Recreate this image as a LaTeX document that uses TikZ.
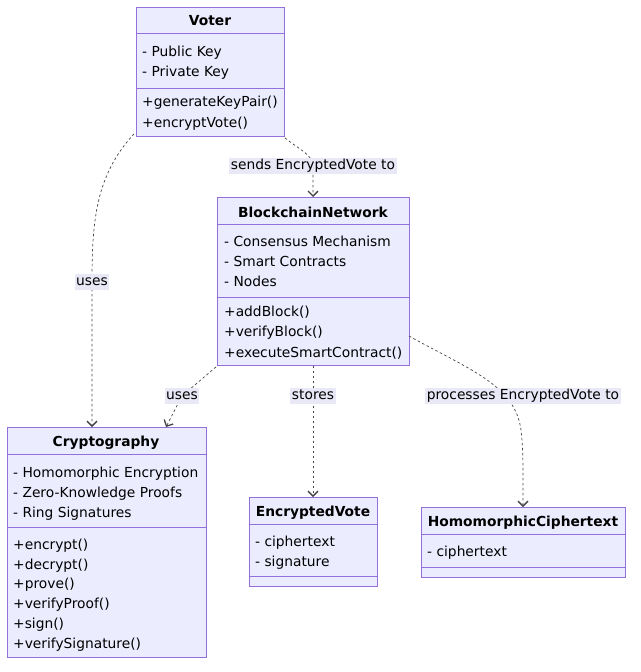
\documentclass[tikz,border=0pt]{standalone}
\usepackage{fontspec}
\setmainfont{DejaVu Sans}
\usetikzlibrary{arrows.meta,calc}
\definecolor{boxfill}{HTML}{ECECFF}
\definecolor{boxline}{HTML}{9370DB}
\definecolor{edgecol}{HTML}{444444}
\definecolor{lblbg}{HTML}{E8E8F6}
\tikzset{
  umlbox/.style={draw=boxline, fill=boxfill, line width=0.9pt, inner sep=0, anchor=north west},
  sepline/.style={draw=boxline, line width=0.9pt},
  ttl/.style={font=\fontsize{13.8}{16}\selectfont\bfseries, anchor=base, inner sep=0},
  itm/.style={font=\fontsize{13.8}{16}\selectfont, anchor=base west, inner sep=0},
  dep/.style={draw=edgecol, line width=0.7pt, dash pattern=on 2.5pt off 2.5pt, -{Straight Barb[length=5pt,width=10pt,line width=1.3pt]}},
  lbl/.style={font=\fontsize{13.8}{16}\selectfont, fill=lblbg, inner sep=1.5pt, text height=10.5pt, text depth=3pt},
}
\begin{document}
\begin{tikzpicture}[x=1pt,y=-1pt]
\useasboundingbox (0,0) rectangle (640,672);
\fill[white] (0,0) rectangle (640,672);

% Voter
\node[umlbox, minimum width=148pt, minimum height=129pt] (voter) at (136,7) {};
\draw[sepline] (136,33) -- (284,33);
\draw[sepline] (136,88) -- (284,88);
\node[ttl] (voterT) at (210,25) {Voter};
\node[itm] (v1) at (142,56) {- Public Key};
\node[itm] (v2) at (142,76) {- Private Key};
\node[itm] (v3) at (142,106) {+generateKeyPair()};
\node[itm] (v4) at (142,127) {+encryptVote()};

% BlockchainNetwork
\node[umlbox, minimum width=192pt, minimum height=168pt] (bc) at (217,197) {};
\draw[sepline] (217,224) -- (409,224);
\draw[sepline] (217,297) -- (409,297);
\node[ttl] (bcT) at (313,217) {BlockchainNetwork};
\node[itm] (b1) at (224,246) {- Consensus Mechanism};
\node[itm] (b2) at (224,266) {- Smart Contracts};
\node[itm] (b3) at (224,286) {- Nodes};
\node[itm] (b4) at (224,316) {+addBlock()};
\node[itm] (b5) at (224,336) {+verifyBlock()};
\node[itm] (b6) at (224,357) {+executeSmartContract()};

% Cryptography
\node[umlbox, minimum width=199pt, minimum height=230pt] (cr) at (7,427) {};
\draw[sepline] (7,454) -- (206,454);
\draw[sepline] (7,527) -- (206,527);
\node[ttl] (crT) at (106,446) {Cryptography};
\node[itm] (c1) at (13,477) {- Homomorphic Encryption};
\node[itm] (c2) at (13,497) {- Zero-Knowledge Proofs};
\node[itm] (c3) at (13,517) {- Ring Signatures};
\node[itm] (c4) at (13,549) {+encrypt()};
\node[itm] (c5) at (13,569) {+decrypt()};
\node[itm] (c6) at (13,588) {+prove()};
\node[itm] (c7) at (13,608) {+verifyProof()};
\node[itm] (c8) at (13,628) {+sign()};
\node[itm] (c9) at (13,648) {+verifySignature()};

% EncryptedVote
\node[umlbox, minimum width=128pt, minimum height=89pt] (ev) at (249,497) {};
\draw[sepline] (249,524) -- (377,524);
\draw[sepline] (249,576) -- (377,576);
\node[ttl] (evT) at (313,516) {EncryptedVote};
\node[itm] (e1) at (255,546) {- ciphertext};
\node[itm] (e2) at (255,566) {- signature};

% HomomorphicCiphertext
\node[umlbox, minimum width=204pt, minimum height=70pt] (hc) at (421,507) {};
\draw[sepline] (421,534) -- (625,534);
\draw[sepline] (421,567) -- (625,567);
\node[ttl] (hcT) at (523,526) {HomomorphicCiphertext};
\node[itm] (h1) at (427,556) {- ciphertext};

% edges
\coordinate (k1) at (92,282);
\draw[dep] ($(voter.south west)+(-2,-3)$) .. controls (96,175) and (92,220) .. (k1) -- (cr.north -| k1);
\node[lbl] (l1) at (k1) {uses};

\coordinate (k2) at (313,166);
\draw[dep] ($(voter.south east)+(0,1)$) .. controls (300,150) and (313,155) .. (k2) -- (bc.north -| k2);
\node[lbl] (l2) at (k2) {sends EncryptedVote to};

\coordinate (k3) at (182,396);
\draw[dep] ($(bc.south west)+(-1,1)$) -- (k3) -- (166,427);
\node[lbl] (l3) at (k3) {uses};

\coordinate (k4) at (313,396);
\draw[dep] (bc.south -| k4) -- (k4) -- (ev.north -| k4);
\node[lbl] (l4) at (k4) {stores};

\coordinate (k5) at (523,396);
\draw[dep] (409,336) .. controls (470,370) and (515,385) .. (521,430) .. controls (523,450) .. (hc.north -| k5);
\node[lbl] (l5) at (k5) {processes EncryptedVote to};
\end{tikzpicture}
\end{document}
